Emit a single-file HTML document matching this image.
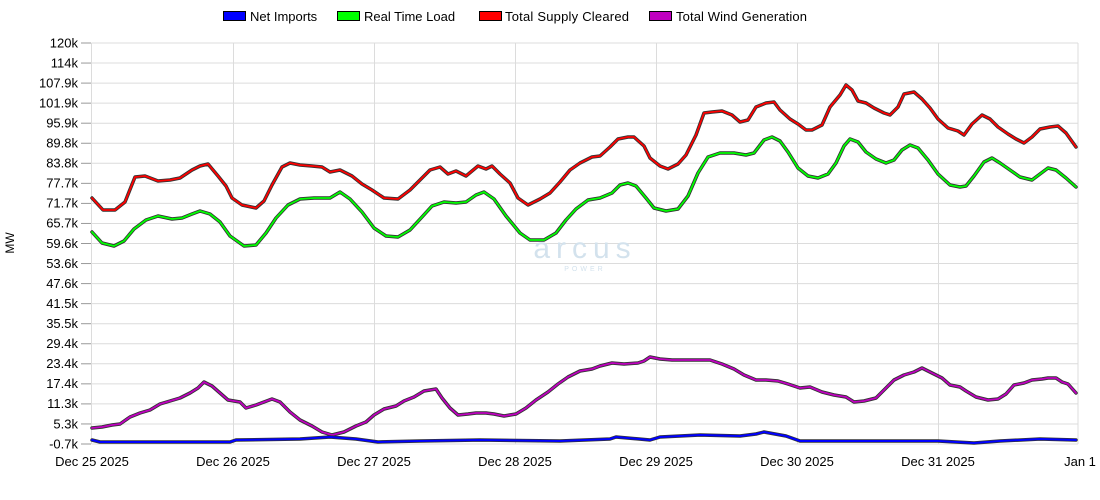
<!DOCTYPE html>
<html><head><meta charset="utf-8"><style>
body{margin:0;background:#fff;}
svg{display:block;font-family:"Liberation Sans",Arial,sans-serif;}
</style></head><body>
<svg width="1100" height="500" viewBox="0 0 1100 500" xmlns="http://www.w3.org/2000/svg">
<g stroke="#dcdcdc" stroke-width="1">
<line x1="91.5" y1="43" x2="1078" y2="43"/><line x1="91.5" y1="63.05" x2="1078" y2="63.05"/><line x1="91.5" y1="83.1" x2="1078" y2="83.1"/><line x1="91.5" y1="103.15" x2="1078" y2="103.15"/><line x1="91.5" y1="123.2" x2="1078" y2="123.2"/><line x1="91.5" y1="143.25" x2="1078" y2="143.25"/><line x1="91.5" y1="163.3" x2="1078" y2="163.3"/><line x1="91.5" y1="183.35" x2="1078" y2="183.35"/><line x1="91.5" y1="203.4" x2="1078" y2="203.4"/><line x1="91.5" y1="223.45" x2="1078" y2="223.45"/><line x1="91.5" y1="243.5" x2="1078" y2="243.5"/><line x1="91.5" y1="263.55" x2="1078" y2="263.55"/><line x1="91.5" y1="283.6" x2="1078" y2="283.6"/><line x1="91.5" y1="303.65" x2="1078" y2="303.65"/><line x1="91.5" y1="323.7" x2="1078" y2="323.7"/><line x1="91.5" y1="343.75" x2="1078" y2="343.75"/><line x1="91.5" y1="363.8" x2="1078" y2="363.8"/><line x1="91.5" y1="383.85" x2="1078" y2="383.85"/><line x1="91.5" y1="403.9" x2="1078" y2="403.9"/><line x1="91.5" y1="423.95" x2="1078" y2="423.95"/><line x1="91.5" y1="444" x2="1078" y2="444"/>
<line x1="91.5" y1="43" x2="91.5" y2="444"/><line x1="233.5" y1="43" x2="233.5" y2="444"/><line x1="374.5" y1="43" x2="374.5" y2="444"/><line x1="515.5" y1="43" x2="515.5" y2="444"/><line x1="656.5" y1="43" x2="656.5" y2="444"/><line x1="797.5" y1="43" x2="797.5" y2="444"/><line x1="938.5" y1="43" x2="938.5" y2="444"/><line x1="1078" y1="43" x2="1078" y2="444"/>
</g>
<g stroke="#999" stroke-width="1">
<line x1="81" y1="43" x2="91" y2="43"/><line x1="81" y1="63.05" x2="91" y2="63.05"/><line x1="81" y1="83.1" x2="91" y2="83.1"/><line x1="81" y1="103.15" x2="91" y2="103.15"/><line x1="81" y1="123.2" x2="91" y2="123.2"/><line x1="81" y1="143.25" x2="91" y2="143.25"/><line x1="81" y1="163.3" x2="91" y2="163.3"/><line x1="81" y1="183.35" x2="91" y2="183.35"/><line x1="81" y1="203.4" x2="91" y2="203.4"/><line x1="81" y1="223.45" x2="91" y2="223.45"/><line x1="81" y1="243.5" x2="91" y2="243.5"/><line x1="81" y1="263.55" x2="91" y2="263.55"/><line x1="81" y1="283.6" x2="91" y2="283.6"/><line x1="81" y1="303.65" x2="91" y2="303.65"/><line x1="81" y1="323.7" x2="91" y2="323.7"/><line x1="81" y1="343.75" x2="91" y2="343.75"/><line x1="81" y1="363.8" x2="91" y2="363.8"/><line x1="81" y1="383.85" x2="91" y2="383.85"/><line x1="81" y1="403.9" x2="91" y2="403.9"/><line x1="81" y1="423.95" x2="91" y2="423.95"/><line x1="81" y1="444" x2="91" y2="444"/>
</g>
<g font-size="13" fill="#000" text-anchor="end">
<text x="78" y="47.5">120k</text><text x="78" y="67.5">114k</text><text x="78" y="87.5">107.9k</text><text x="78" y="107.5">101.9k</text><text x="78" y="127.5">95.9k</text><text x="78" y="147.5">89.8k</text><text x="78" y="167.5">83.8k</text><text x="78" y="187.5">77.7k</text><text x="78" y="207.5">71.7k</text><text x="78" y="227.5">65.7k</text><text x="78" y="248">59.6k</text><text x="78" y="268">53.6k</text><text x="78" y="288">47.6k</text><text x="78" y="308">41.5k</text><text x="78" y="328">35.5k</text><text x="78" y="348">29.4k</text><text x="78" y="368">23.4k</text><text x="78" y="388">17.4k</text><text x="78" y="408">11.3k</text><text x="78" y="428.5">5.3k</text><text x="78" y="448.5">-0.7k</text>
</g>
<g font-size="13" fill="#000" text-anchor="middle">
<text x="92" y="466">Dec 25 2025</text><text x="233" y="466">Dec 26 2025</text><text x="374" y="466">Dec 27 2025</text><text x="515" y="466">Dec 28 2025</text><text x="656" y="466">Dec 29 2025</text><text x="797" y="466">Dec 30 2025</text><text x="938" y="466">Dec 31 2025</text><text x="1080" y="466">Jan 1</text>
</g>
<text x="14" y="243" font-size="12" transform="rotate(-90 14 243)" text-anchor="middle">MW</text>
<text x="585" y="258" font-size="30" fill="#d3e2ed" text-anchor="middle" letter-spacing="6">arcus</text>
<text x="585" y="271" font-size="7" fill="#d3e2ed" text-anchor="middle" letter-spacing="3">POWER</text>
<g font-size="13" fill="#000">
<rect x="223.5" y="11.5" width="22" height="9" fill="#0000ff" stroke="#000"/><text x="250" y="21">Net Imports</text>
<rect x="337.5" y="11.5" width="22" height="9" fill="#00ff00" stroke="#000"/><text x="364" y="21">Real Time Load</text>
<rect x="479.5" y="11.5" width="22" height="9" fill="#ff0000" stroke="#000"/><text x="505" y="21" textLength="124">Total Supply Cleared</text>
<rect x="649.5" y="11.5" width="22" height="9" fill="#c000c0" stroke="#000"/><text x="676" y="21" textLength="131">Total Wind Generation</text>
</g>
<defs>
<polyline id="red" points="92,198 103,210 115,210 125,202 135,177 145,176 158,181 170,180 180,178 192,170 200,166 208,164 218,176 226,186 232,198 242,205 256,208 264,201 272,185 282,167 290,163 300,165 312,166 322,167 330,172 340,170 352,176 362,184 372,190 384,198 398,199 410,190 420,180 430,170 440,167 448,174 456,171 466,176 478,166 486,169 492,166 500,174 510,183 518,198 528,205 540,199 550,193 560,182 570,170 580,163 592,157 600,156 610,147 618,139 628,137 634,137 644,146 650,158 660,166 668,169 678,164 686,155 696,135 704,113 712,112 722,111 732,115 740,122 748,120 756,107 766,103 774,102 780,110 790,119 798,124 806,130 812,130 822,125 830,107 840,95 846,85 852,90 858,101 866,103 874,108 884,113 890,115 898,107 904,94 914,92 922,99 930,108 938,119 948,128 958,131 964,135 972,124 982,115 990,119 998,127 1008,134 1016,139 1024,143 1032,137 1040,129 1050,127 1058,126 1066,133 1076,147"/>
<polyline id="green" points="92,232 102,243 114,246 124,241 134,229 146,220 158,216 172,219 182,218 192,214 200,211 210,214 220,222 230,236 244,246 256,245 266,233 276,218 288,205 300,199 314,198 330,198 340,192 350,199 362,212 374,228 386,236 398,237 410,230 422,217 432,206 444,202 456,203 466,202 476,195 484,192 494,199 506,216 520,233 530,240 544,240 556,233 566,220 576,209 588,200 600,198 612,193 620,185 628,183 636,186 646,198 654,208 666,211 678,209 688,196 698,173 708,157 720,153 734,153 746,155 754,153 764,140 772,137 780,141 788,152 798,168 808,176 818,178 828,174 836,163 844,146 850,139 858,142 866,152 876,159 886,163 894,160 902,150 910,145 918,148 928,160 938,174 950,185 960,187 966,186 974,176 984,162 992,158 1000,163 1010,170 1020,177 1032,180 1040,174 1048,168 1056,170 1066,178 1076,187"/>
<polyline id="wind" points="92,428 102,427 112,425 120,424 130,417 140,413 150,410 160,404 170,401 180,398 190,393 198,388 204,382 212,386 220,393 228,400 240,402 246,408 256,405 264,402 272,399 280,402 290,412 300,420 312,426 322,432 332,435 344,432 356,426 366,422 374,415 384,409 396,406 404,401 414,397 424,391 436,389 442,398 450,408 458,415 468,414 476,413 486,413 494,414 504,416 516,414 526,408 536,400 548,392 558,384 568,377 580,371 592,369 600,366 612,363 624,364 638,363 644,361 650,357 660,359 672,360 690,360 710,360 722,364 734,369 744,375 756,380 766,380 778,381 788,384 800,388 810,387 822,392 834,395 846,397 854,402 864,401 876,398 884,390 894,380 904,375 914,372 922,368 932,373 942,378 950,385 960,387 966,391 976,397 988,400 998,399 1006,394 1014,385 1024,383 1032,380 1042,379 1048,378 1056,378 1062,382 1068,384 1076,393"/>
<polyline id="blue" points="92,440 100,442 230,442 236,440 300,439 330,437 356,439 378,442 420,441 480,440 560,441 610,439 616,437 650,440 660,437 700,435 740,436 756,434 764,432 786,436 800,441 830,441 900,441 938,441 974,443 1000,441 1040,439 1076,440"/>
</defs>
<g fill="none" stroke-linejoin="round" stroke-linecap="round">
<use href="#wind" stroke="#333" stroke-width="3.5"/><use href="#wind" stroke="#c000c0" stroke-width="1.8"/>
<use href="#blue" stroke="#333" stroke-width="3.5"/><use href="#blue" stroke="#0000ff" stroke-width="2"/>
<use href="#green" stroke="#333" stroke-width="3.5"/><use href="#green" stroke="#00ff00" stroke-width="1.8"/>
<use href="#red" stroke="#333" stroke-width="3.5"/><use href="#red" stroke="#ff0000" stroke-width="1.8"/>
</g>
</svg>
</body></html>
